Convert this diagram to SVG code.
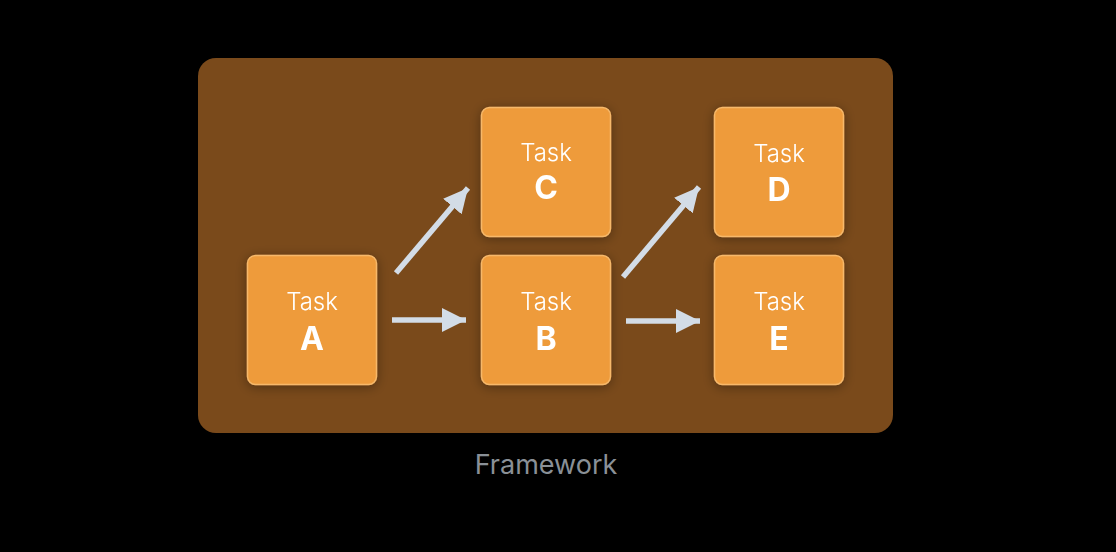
<svg xmlns="http://www.w3.org/2000/svg" width="1116" height="552" viewBox="0 0 1116 552">
<defs>
<style>
.box{fill:#EE9B3B;stroke:#F6B86A;stroke-width:1.5}
.t1{font-family:"Inter","Liberation Sans",sans-serif;font-size:24px;font-weight:300;fill:#ffffff;text-anchor:middle}
.t2{font-family:"Inter","Liberation Sans",sans-serif;font-size:32px;font-weight:bold;fill:#ffffff;text-anchor:middle}
.ar{stroke:#D3DCE6;stroke-width:5.5;fill:none}
</style>
<filter id="sh" x="-30%" y="-30%" width="160%" height="160%">
<feDropShadow dx="0" dy="2" stdDeviation="6" flood-color="#000" flood-opacity="0.35"/>
</filter>
<marker id="ah" viewBox="0 0 10 10" refX="10" refY="5" markerWidth="4.4" markerHeight="4.4" markerUnits="strokeWidth" orient="auto">
<path d="M0,0 L10,5 L0,10 Z" fill="#D3DCE6"/>
</marker>
</defs>
<rect width="1116" height="552" fill="#000"/>
<g id="framework">
<rect x="198" y="58" width="695" height="375" rx="18" fill="#7A4A1B"/>
<text x="546" y="474" font-family="Inter,'Liberation Sans',sans-serif" font-size="27" fill="#8A9097" text-anchor="middle">Framework</text>
</g>
<g id="connectors">
<line class="ar" x1="392" y1="320" x2="466" y2="320" marker-end="url(#ah)"/>
<line class="ar" x1="396" y1="273" x2="468" y2="188" marker-end="url(#ah)"/>
<line class="ar" x1="623" y1="277" x2="699" y2="187" marker-end="url(#ah)"/>
<line class="ar" x1="626" y1="321" x2="700" y2="321" marker-end="url(#ah)"/>
</g>
<g id="taskA" filter="url(#sh)">
<rect class="box" x="247.5" y="255.5" width="129" height="129" rx="8"/>
<text class="t1" x="312" y="310">Task</text>
<text class="t2" x="312" y="350">A</text>
</g>
<g id="taskB" filter="url(#sh)">
<rect class="box" x="481.5" y="255.5" width="129" height="129" rx="8"/>
<text class="t1" x="546" y="310">Task</text>
<text class="t2" x="546" y="350">B</text>
</g>
<g id="taskC" filter="url(#sh)">
<rect class="box" x="481.5" y="107.5" width="129" height="129" rx="8"/>
<text class="t1" x="546" y="161">Task</text>
<text class="t2" x="546" y="199">C</text>
</g>
<g id="taskD" filter="url(#sh)">
<rect class="box" x="714.5" y="107.5" width="129" height="129" rx="8"/>
<text class="t1" x="779" y="162">Task</text>
<text class="t2" x="779" y="201">D</text>
</g>
<g id="taskE" filter="url(#sh)">
<rect class="box" x="714.5" y="255.5" width="129" height="129" rx="8"/>
<text class="t1" x="779" y="310">Task</text>
<text class="t2" x="779" y="350">E</text>
</g>
</svg>
